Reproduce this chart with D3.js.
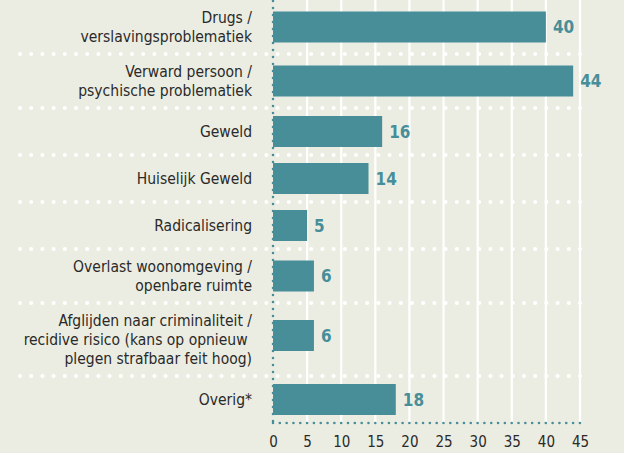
<!DOCTYPE html>
<html>
<head>
<meta charset="utf-8">
<script src="https://cdn.jsdelivr.net/npm/d3@7"></script>
<style>
  html, body { margin: 0; padding: 0; background: #ecede2; }
  svg { display: block; }
  text { font-family: "DejaVu Sans Condensed", "Liberation Sans Narrow", "Roboto", sans-serif; }
</style>
</head>
<body>
<script>
const categories = [
    "Drugs /\nverslavingsproblematiek",
    "Verward persoon /\npsychische problematiek",
    "Geweld",
    "Huiselijk Geweld",
    "Radicalisering",
    "Overlast woonomgeving /\nopenbare ruimte",
    "Afglijden naar criminaliteit /\nrecidive risico (kans op opnieuw \nplegen strafbaar feit hoog)",
    "Overig*"
];
const values = [40, 44, 16, 14, 5, 6, 6, 18];
const xTicks = [0, 5, 10, 15, 20, 25, 30, 35, 40, 45];

const width = 624;
const height = 453;
const margin = { top: 0, left: 273, right: 44, bottom: 30 };
const barColor = "#478e99";
const textColor = "#2a2a2a";

// row height depends on the number of label lines
const rowHeight = { 1: 47, 2: 54, 3: 73 };
const lines = categories.map(c => c.split("\n"));
const rowH = lines.map(l => rowHeight[l.length]);
const rowTop = rowH.map((h, i) => d3.sum(rowH.slice(0, i)));
const plotBottom = d3.sum(rowH);

const svg = d3.select("body").append("svg")
    .attr("width", width)
    .attr("height", height);

const xScale = d3.scaleLinear()
    .domain([0, 45])
    .range([margin.left, width - margin.right]);

const yTop = d3.scaleOrdinal().domain(categories).range(rowTop);
const yMid = d3.scaleOrdinal().domain(categories).range(rowTop.map((t, i) => t + rowH[i] / 2));

// vertical white gridlines
svg.append("g")
    .selectAll("line")
    .data(xTicks.filter(d => d > 0))
    .enter().append("line")
    .attr("x1", d => xScale(d))
    .attr("x2", d => xScale(d))
    .attr("y1", 0)
    .attr("y2", plotBottom)
    .attr("stroke", "#fff")
    .attr("stroke-width", 2.2);

// dotted separators between rows
svg.append("g")
    .selectAll("line")
    .data(categories.slice(1))
    .enter().append("line")
    .attr("x1", 20)
    .attr("x2", xScale(45))
    .attr("y1", d => yTop(d))
    .attr("y2", d => yTop(d))
    .attr("stroke", "#fff")
    .attr("stroke-width", 4)
    .attr("stroke-linecap", "round")
    .attr("stroke-dasharray", "0 11.2");

// bars
const barH = 31;
svg.append("g")
    .selectAll("rect")
    .data(categories)
    .enter().append("rect")
    .attr("x", xScale(0))
    .attr("y", d => yMid(d) - barH / 2 - (lines[categories.indexOf(d)].length > 2 ? 4 : 0))
    .attr("width", (d, i) => xScale(values[i]) - xScale(0))
    .attr("height", barH)
    .attr("fill", barColor);

// value labels
svg.append("g")
    .selectAll("text")
    .data(categories)
    .enter().append("text")
    .attr("x", (d, i) => xScale(values[i]) + 7)
    .attr("y", d => yMid(d) + 6 - (lines[categories.indexOf(d)].length > 2 ? 4 : 0))
    .attr("fill", barColor)
    .attr("font-size", 17)
    .attr("font-weight", "bold")
    .text((d, i) => values[i]);

// category labels
const lineH = 19;
const labels = svg.append("g")
    .selectAll("text")
    .data(categories)
    .enter().append("text")
    .attr("text-anchor", "end")
    .attr("fill", textColor)
    .attr("font-size", 15.5)
    .style("white-space", "pre");

labels.selectAll("tspan")
    .data((d, i) => lines[i].map((t, j) => ({ t, j, n: lines[i].length, cy: yMid(d) })))
    .enter().append("tspan")
    .attr("x", 252)
    .attr("y", d => d.cy + (d.j - (d.n - 1) / 2) * lineH + 5.5)
    .text(d => d.t);

// teal dotted axes
svg.append("line")
    .attr("x1", xScale(0)).attr("x2", xScale(0))
    .attr("y1", 1).attr("y2", plotBottom)
    .attr("stroke", barColor)
    .attr("stroke-width", 2.6)
    .attr("stroke-linecap", "round")
    .attr("stroke-dasharray", "0 7");

svg.append("line")
    .attr("x1", xScale(0)).attr("x2", xScale(45))
    .attr("y1", plotBottom).attr("y2", plotBottom)
    .attr("stroke", barColor)
    .attr("stroke-width", 2.6)
    .attr("stroke-linecap", "round")
    .attr("stroke-dasharray", "0 6.82");

// x axis tick labels
const xAxis = svg.append("g")
    .attr("transform", `translate(0,${plotBottom + 13})`)
    .call(d3.axisBottom(xScale).tickValues(xTicks).tickSize(0).tickPadding(0));
xAxis.select(".domain").remove();
xAxis.selectAll("text")
    .attr("fill", textColor)
    .attr("font-size", 15)
    .attr("font-family", null);
</script>
</body>
</html>
